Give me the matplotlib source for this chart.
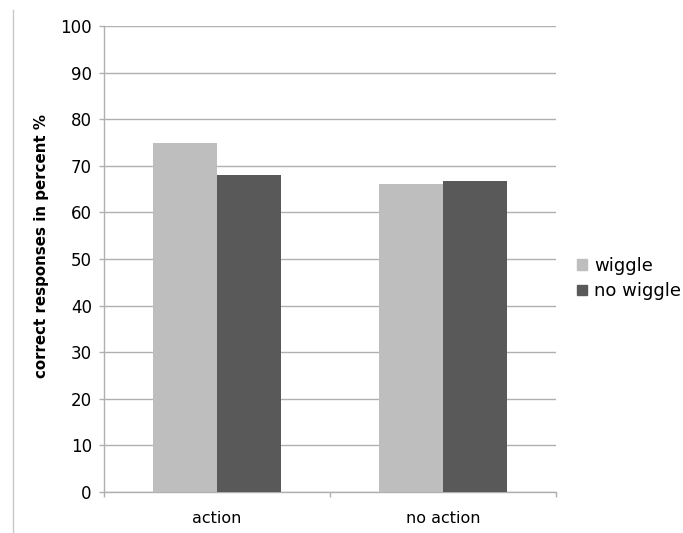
import matplotlib.pyplot as plt
from matplotlib.lines import Line2D
from matplotlib.patches import Patch

categories = ["action", "no action"]
wiggle = [75.0, 66.0]
no_wiggle = [68.0, 66.7]
series_names = ["wiggle", "no wiggle"]

light = "#bebebe"
dark = "#595959"
axis_grey = "#b0b0b0"

fig = plt.figure(figsize=(6.83, 5.33), dpi=100)
ax = fig.add_axes([104 / 683, 41 / 533, 452 / 683, 466 / 533])

x = [0, 1]
w = 0.283
ax.bar([i - w / 2 for i in x], wiggle, w, color=light, zorder=3)
ax.bar([i + w / 2 for i in x], no_wiggle, w, color=dark, zorder=3)

ax.set_xlim(-0.5, 1.5)
ax.set_ylim(0, 100)
ax.set_yticks(range(0, 101, 10))
ax.yaxis.grid(True, color=axis_grey, linewidth=1.0, zorder=0)

# category labels sit between the boundary ticks
ax.set_xticks([-0.5, 0.5, 1.5])
ax.set_xticklabels([])
ax.set_xticks(x, minor=True)
ax.set_xticklabels(categories, minor=True, fontsize=11.5)
ax.tick_params(axis="x", which="minor", length=0, pad=14)
ax.tick_params(axis="x", which="major", length=3.6, color=axis_grey, width=1)
ax.tick_params(axis="y", length=3.6, color=axis_grey, width=1, labelsize=12, pad=5.2)

for s in ["top", "right"]:
    ax.spines[s].set_visible(False)
for s in ["left", "bottom"]:
    ax.spines[s].set_color(axis_grey)
    ax.spines[s].set_linewidth(1.0)

ax.set_ylabel("correct responses in percent %", fontsize=10.8, fontweight="bold")
ax.yaxis.set_label_coords(-55 / 452, 0.528)

handles = [Patch(color=light), Patch(color=dark)]
fig.legend(handles, series_names, loc="upper left", bbox_to_anchor=(570 / 683, 1 - 250 / 533),
           frameon=False, fontsize=13, handlelength=0.55, handleheight=0.55,
           handletextpad=0.4, labelspacing=0.4, borderaxespad=0)

# thin page border on the left
fig.add_artist(Line2D([13 / 683, 13 / 683], [0, 1 - 10 / 533], color="#c8c8c8", linewidth=1.0))

fig.savefig("out.png", dpi=100)
